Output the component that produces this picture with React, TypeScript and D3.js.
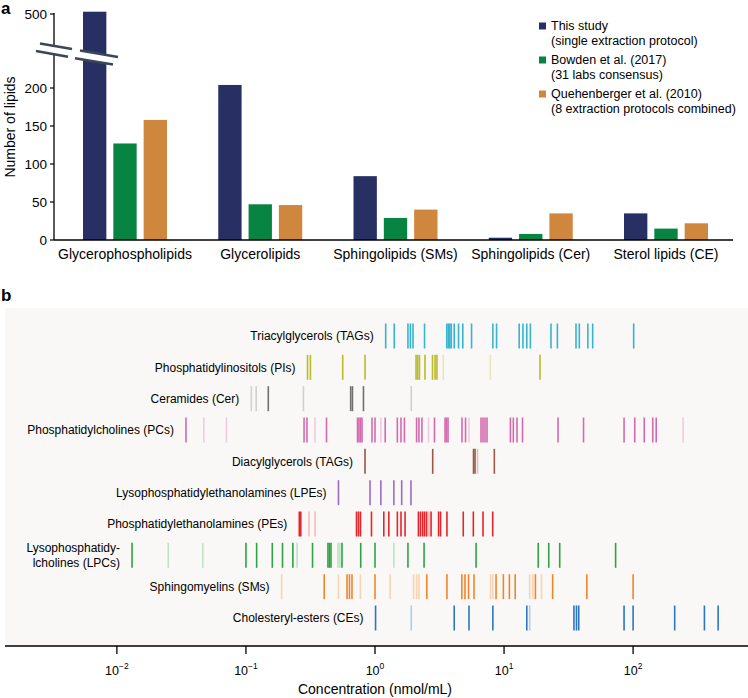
import React from 'react';
import * as d3 from 'd3';

// ---------- Panel a data ----------
const categories = [
  'Glycerophospholipids',
  'Glycerolipids',
  'Sphingolipids (SMs)',
  'Sphingolipids (Cer)',
  'Sterol lipids (CE)',
];
const thisStudy = [503, 204, 84, 3, 35];
const bowden2017 = [127, 47, 29, 8, 15];
const quehenberger2010 = [158, 46, 40, 35, 22];
const seriesNames = ['This study', 'Bowden et al. (2017)', 'Quehenberger et al. (2010)'];
const seriesSubtitles = ['(single extraction protocol)', '(31 labs consensus)', '(8 extraction protocols combined)'];
const seriesColors = ['#282f63', '#078442', '#cf873d'];
const yTicksLower = [0, 50, 100, 150, 200];
const yTicksUpper = [500];

// ---------- Panel b data (nmol/mL) ----------
const classNames = [
  'Triacylglycerols (TAGs)',
  'Phosphatidylinositols (PIs)',
  'Ceramides (Cer)',
  'Phosphatidylcholines (PCs)',
  'Diacylglycerols (TAGs)',
  'Lysophosphatidylethanolamines (LPEs)',
  'Phosphatidylethanolamines (PEs)',
  'Lysophosphatidy-\nlcholines (LPCs)',
  'Sphingomyelins (SMs)',
  'Cholesteryl-esters (CEs)',
];
const classColors = ['#36b4d0', '#b9bb2c', '#6f6f6f', '#d46aae', '#9b5748', '#9a6cc6', '#e2262c', '#2fa345', '#f0862a', '#2b77bf'];
const classFaintColors = ['#b9e3ee', '#e6e6b8', '#d0d0d0', '#f1c9e2', '#dcc3bd', '#d9c9ea', '#f7b9bb', '#bfe2c6', '#f9d4b4', '#b0cce8'];

const tagSolid = [1.21, 1.41, 1.80, 1.88, 1.97, 2.42, 3.6, 3.7, 3.8, 3.9, 4.11, 4.44, 4.79, 5.60, 8.19, 8.75, 13.1, 14.0, 15.0, 16.0, 23.1, 25.9, 36.1, 38.3, 44.6, 48.6, 101];
const tagFaint: number[] = [];
const piSolid = [0.300, 0.316, 0.562, 0.837, 2.08, 2.14, 2.21, 2.44, 2.79, 2.92, 3.02, 19.0];
const piFaint = [3.38, 7.83];
const cerSolid = [0.149, 0.648, 0.669, 0.814];
const cerFaint = [0.110, 0.120, 0.279, 1.91];
const pcSolid = [0.0343, 0.282, 0.297, 0.421, 0.732, 0.751, 0.772, 0.793, 0.948, 1.00, 1.20, 1.49, 1.59, 1.69, 2.10, 2.19, 2.31, 2.89, 3.49, 3.58, 3.68, 4.72, 5.03, 6.63, 6.87, 7.12, 7.38, 11.2, 11.8, 12.6, 13.9, 26.2, 41.3, 85.1, 103, 122, 142, 151];
const pcFaint = [0.0472, 0.0706, 0.343, 1.11, 2.60, 5.35, 244];
const dagSolid = [0.837, 2.80, 5.80, 5.96, 8.41];
const dagFaint = [6.23];
const lpeSolid = [0.521, 0.915, 1.11, 1.40, 1.61, 1.90];
const lpeFaint: number[] = [];
const peSolid = [0.259, 0.266, 0.719, 0.745, 0.772, 0.939, 1.17, 1.28, 1.49, 1.59, 1.71, 2.17, 2.25, 2.34, 2.42, 2.51, 2.72, 3.11, 3.22, 3.61, 4.83, 5.78, 6.87, 8.17];
const peFaint = [0.308, 0.343, 2.62];
const lpcSolid = [0.0131, 0.100, 0.121, 0.160, 0.192, 0.231, 0.328, 0.432, 0.444, 0.456, 0.555, 0.775, 1.00, 1.80, 2.40, 6.07, 18.4, 22.2, 27.0, 73.2];
const lpcFaint = [0.0250, 0.0463, 0.249, 0.517, 0.535, 1.40];
const smSolid = [0.404, 0.607, 0.634, 0.663, 1.00, 2.52, 3.61, 4.71, 4.98, 5.31, 5.85, 8.67, 9.88, 11.0, 12.2, 17.5, 23.8, 43.8, 100];
const smFaint = [0.189, 0.521, 0.770, 1.31, 1.99, 2.10, 2.19, 7.86, 8.19, 15.8, 16.7, 19.5];
const ceSolid = [1.01, 4.11, 5.35, 8.19, 15.0, 34.8, 36.4, 37.9, 85.1, 100, 210, 357, 456];
const ceFaint = [1.91, 15.8];

const concTicks = [0.01, 0.1, 1, 10, 100];
const concTickExp = ['−2', '−1', '0', '1', '2'];

const FONT = '"Liberation Sans", Arial, Helvetica, sans-serif';

export default function App() {
  // ----- panel a scales -----
  const xGroup = d3.scaleBand<string>().domain(categories).range([83, 708]).paddingInner(0.379).paddingOuter(0);
  const xInner = d3.scaleBand<number>().domain([0, 1, 2]).range([0, xGroup.bandwidth()]).paddingInner(0.23);
  const yLow = d3.scaleLinear().domain([0, 200]).range([240, 88]);
  const yUp = d3.scaleLinear().domain([460, 500]).range([44.4, 14]);
  const yVal = (v: number) => (v > 230 ? yUp(v) : yLow(v));
  const series = [thisStudy, bowden2017, quehenberger2010];

  // ----- panel b scales -----
  const x = d3.scaleLog().domain([0.01, 100]).range([116.9, 633.1]);
  const yRow = d3.scalePoint<string>().domain(classNames).range([336, 618]);
  const classes = [
    [tagSolid, tagFaint], [piSolid, piFaint], [cerSolid, cerFaint], [pcSolid, pcFaint], [dagSolid, dagFaint],
    [lpeSolid, lpeFaint], [peSolid, peFaint], [lpcSolid, lpcFaint], [smSolid, smFaint], [ceSolid, ceFaint],
  ];
  const halfTick = 12.5;
  const axisY = 646;

  return (
    <svg width={748} height={698} style={{ position: 'absolute', left: 0, top: 0, background: '#fff' }} fontFamily={FONT}>
      {/* ===== Panel a ===== */}
      <text x={1} y={14} fontSize={17} fontWeight="bold">a</text>
      {/* y axis */}
      <line x1={54} x2={54} y1={yUp(500) - 1} y2={yLow(0)} stroke="#000" strokeWidth={1.3} />
      {yTicksLower.map((t) => (
        <g key={'yl' + t}>
          <line x1={50} x2={54} y1={yLow(t)} y2={yLow(t)} stroke="#000" strokeWidth={1.2} />
          <text x={47} y={yLow(t)} dy="0.36em" textAnchor="end" fontSize={13.5}>{t}</text>
        </g>
      ))}
      {yTicksUpper.map((t) => (
        <g key={'yu' + t}>
          <line x1={50} x2={54} y1={yUp(t)} y2={yUp(t)} stroke="#000" strokeWidth={1.2} />
          <text x={47} y={yUp(t)} dy="0.36em" textAnchor="end" fontSize={13.5}>{t}</text>
        </g>
      ))}
      <text transform={`translate(15,127) rotate(-90)`} textAnchor="middle" fontSize={14}>Number of lipids</text>
      {/* bars */}
      {categories.map((c, i) => (
        <g key={c}>
          {series.map((s, j) => (
            <rect
              key={j}
              x={(xGroup(c) as number) + (xInner(j) as number)}
              y={yVal(s[i])}
              width={xInner.bandwidth()}
              height={yLow(0) - yVal(s[i])}
              fill={seriesColors[j]}
            />
          ))}
          <text x={(xGroup(c) as number) + xGroup.bandwidth() / 2} y={259} textAnchor="middle" fontSize={14}>{c}</text>
        </g>
      ))}
      {/* axis break */}
      <polygon points="40,43.5 72,49 80,50.5 118,57 113,64.5 75,58.2 68,56.8 36,51" fill="#fff" />
      <polygon points="72,49 80,50.5 75,58.2 68,56.8" fill="#fff" />
      <g stroke="#3b4658" strokeWidth={2.6} strokeLinecap="butt">
        <line x1={40} y1={43.5} x2={72} y2={49} />
        <line x1={80} y1={50.5} x2={118} y2={57} />
        <line x1={36} y1={51} x2={68} y2={56.8} />
        <line x1={75} y1={58.2} x2={113} y2={64.5} />
      </g>
      {/* x axis */}
      <line x1={54} x2={733} y1={yLow(0)} y2={yLow(0)} stroke="#000" strokeWidth={1.4} />
      {/* legend */}
      {seriesNames.map((n, j) => (
        <g key={n} transform={`translate(539, ${26 + j * 34})`}>
          <rect x={0} y={-3.5} width={7} height={7} fill={seriesColors[j]} />
          <text x={12} y={0} dy="0.35em" fontSize={12.5}>{n}</text>
          <text x={12} y={15} dy="0.35em" fontSize={12.5}>{seriesSubtitles[j]}</text>
        </g>
      ))}

      {/* ===== Panel b ===== */}
      <text x={1} y={301} fontSize={17} fontWeight="bold">b</text>
      <rect x={5} y={308} width={743} height={axisY - 308} fill="#f9f8f6" />
      {classNames.map((name, i) => {
        const [solid, faint] = classes[i];
        const cy = yRow(name) as number;
        const minX = x(d3.min([...solid, ...faint]) as number);
        const lines = name.split('\n');
        return (
          <g key={name}>
            {faint.map((v, k) => (
              <line key={'f' + k} x1={x(v)} x2={x(v)} y1={cy - halfTick} y2={cy + halfTick} stroke={classFaintColors[i]} strokeWidth={1.6} />
            ))}
            {solid.map((v, k) => (
              <line key={'s' + k} x1={x(v)} x2={x(v)} y1={cy - halfTick} y2={cy + halfTick} stroke={classColors[i]} strokeWidth={1.6} />
            ))}
            <text x={minX - 12} y={cy - ((lines.length - 1) * 15) / 2} textAnchor="end" fontSize={12}>
              {lines.map((l, k) => (
                <tspan key={k} x={minX - 12} dy={k === 0 ? '0.35em' : 15}>{l}</tspan>
              ))}
            </text>
          </g>
        );
      })}
      {/* x axis */}
      <line x1={5} x2={748} y1={axisY} y2={axisY} stroke="#000" strokeWidth={1.5} />
      {concTicks.map((t, k) => (
        <g key={t}>
          <line x1={x(t)} x2={x(t)} y1={axisY} y2={axisY + 8} stroke="#000" strokeWidth={1.3} />
          <text x={x(t)} y={675} textAnchor="middle" fontSize={12.5}>
            <tspan>10</tspan>
            <tspan dy={-6} fontSize={8.5}>{concTickExp[k]}</tspan>
          </text>
        </g>
      ))}
      <text x={375} y={694} textAnchor="middle" fontSize={14}>Concentration (nmol/mL)</text>
    </svg>
  );
}
